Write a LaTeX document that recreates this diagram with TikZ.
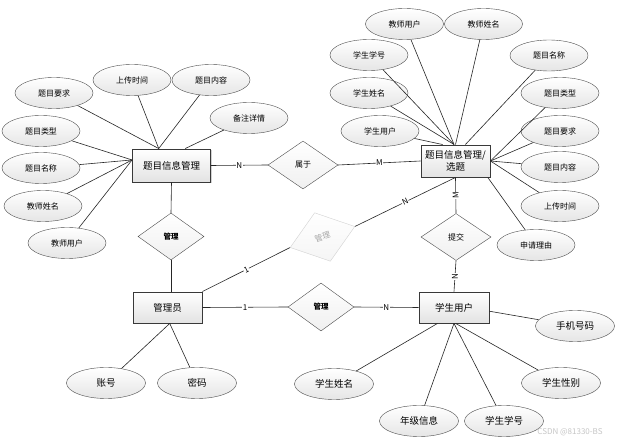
\documentclass[tikz,border=0pt]{standalone}
\usepackage{fontspec}
\setmainfont{Noto Sans CJK SC}
\usetikzlibrary{shapes.geometric,shadows}
\tikzset{
  attr/.style={ellipse,draw=gray!60!black,top color=white,bottom color=gray!20,minimum width=78pt,minimum height=31pt,inner sep=0pt,font=\fontsize{8}{9}\selectfont},
  attrbig/.style={attr,minimum width=79pt,font=\fontsize{9.5}{11}\selectfont},
  entity/.style={rectangle,draw=gray!45!black,line width=0.9pt,top color=white,bottom color=gray!22,minimum height=32pt,inner sep=1pt,align=center,font=\fontsize{9.5}{12}\selectfont,drop shadow={shadow xshift=1.2pt,shadow yshift=-1.2pt,opacity=0.35}},
  rel/.style={diamond,draw=gray!60!black,top color=white,bottom color=gray!12,minimum width=66pt,minimum height=47pt,inner sep=0pt,font=\fontsize{8}{9}\selectfont},
  relfaint/.style={rel,draw=gray!35,text=gray!70,top color=white,bottom color=gray!8},
  link/.style={draw=gray!30!black,line width=0.6pt},
  card/.style={fill=white,inner sep=0.6pt,font=\fontsize{8}{9}\selectfont}
}
\begin{document}
\begin{tikzpicture}[x=1pt,y=-1pt]
\useasboundingbox[fill=white] (0,0) rectangle (625,443);
\node[entity,minimum width=78pt,minimum height=33pt] (tm) at (171.5,165.5) {题目信息管理};
\node[entity,minimum width=69pt] (tx) at (455.5,161) {题目信息管理/\\选题};
\node[entity,minimum width=69pt,minimum height=31pt] (tg) at (167.5,307.5) {管理员};
\node[entity,minimum width=70pt,minimum height=31pt] (ts) at (454,307.5) {学生用户};
\node[rel,minimum width=70pt,minimum height=48pt] (rs) at (303,165) {属于};
\node[rel,font=\fontsize{7.5}{9}\selectfont\bfseries] (rm1) at (171,236.5) {管理};
\node[rel,minimum width=70pt] (rt) at (456,237) {提交};
\node[rel,minimum height=48pt,font=\fontsize{7.5}{9}\selectfont\bfseries] (rm2) at (321,307) {管理};
\node[relfaint,minimum width=68pt,minimum height=51pt,rotate=18] (rg) at (322.5,237) {管理};
\node[attr] (a1) at (54,93) {题目要求};
\node[attr] (a2) at (132,80) {上传时间};
\node[attr] (a3) at (211,80) {题目内容};
\node[attr] (a4) at (249,118) {备注详情};
\node[attr] (a5) at (41,131) {题目类型};
\node[attr] (a6) at (41,168) {题目名称};
\node[attr] (a7) at (43,206) {教师姓名};
\node[attr] (a8) at (67,243) {教师用户};
\node[attr] (b1) at (404.5,24) {教师用户};
\node[attr] (b2) at (483.5,24) {教师姓名};
\node[attr] (b3) at (369,55) {学生学号};
\node[attr] (b4) at (549,55.5) {题目名称};
\node[attr] (b5) at (369,93) {学生姓名};
\node[attr] (b6) at (560,93) {题目类型};
\node[attr] (b7) at (380,131) {学生用户};
\node[attr] (b8) at (560,131) {题目要求};
\node[attr] (b9) at (560,167) {题目内容};
\node[attr] (b10) at (560,206) {上传时间};
\node[attr] (b11) at (536,245) {申请理由};
\node[attrbig] (c1) at (106,383) {账号};
\node[attrbig] (c2) at (197,383) {密码};
\node[attrbig] (d1) at (334,384) {学生姓名};
\node[attrbig] (d2) at (419,421) {年级信息};
\node[attrbig] (d3) at (504,421) {学生学号};
\node[attrbig] (d4) at (561,383) {学生性别};
\node[attrbig] (d5) at (575,326) {手机号码};
\node[text=gray!45,font=\fontsize{8}{9}\selectfont] (wm) at (570,432) {CSDN @81330-BS};
\foreach \a in {a1,a2,a3} \draw[link] (\a) -- (tm.127);
\draw[link] (a4) -- (tm.51);
\foreach \a in {a5,a6,a7,a8} \draw[link] (\a) -- (tm.172);
\foreach \b in {b1,b3,b5} \draw[link] (\b) -- (tx.95);
\draw[link] (b2) -- (tx.north);
\draw[link] (b4) -- (tx.59);
\draw[link] (b7) -- (tx.128);
\foreach \b in {b6,b8,b9,b10} \draw[link] (\b) -- (tx.east);
\draw[link] (b11) -- (tx.-27);
\draw[link] (c1) -- (tg.-82);
\draw[link] (c2) -- (tg.-82);
\draw[link] (d1) -- (ts.-136);
\draw[link] (d2) -- (ts.south);
\draw[link] (d3) -- (ts.south);
\draw[link] (d4) -- (ts.-84);
\draw[link] (d5) -- (ts.-6);
\draw[link] (tm.east) -- node[card] {N} (rs.west);
\draw[link] (rs.east) -- node[card] {M} (tx.west);
\draw[link] (tm.south) -- (rm1.north);
\draw[link] (rm1.south) -- (rm1.south |- tg.north);
\draw[link] (tg.north east) -- node[card,sloped] {1} (rg.west);
\draw[link] (rg.east) -- node[card,sloped] {N} (tx.south);
\draw[link] (tx.south) -- node[card,rotate=90] {M} (rt.north);
\draw[link] (rt.south) -- node[card,rotate=90] {N} (ts.north);
\draw[link] (tg.east) -- node[card] {1} (rm2.west);
\draw[link] (rm2.east) -- node[card] {N} (ts.west);
\end{tikzpicture}
\end{document}
